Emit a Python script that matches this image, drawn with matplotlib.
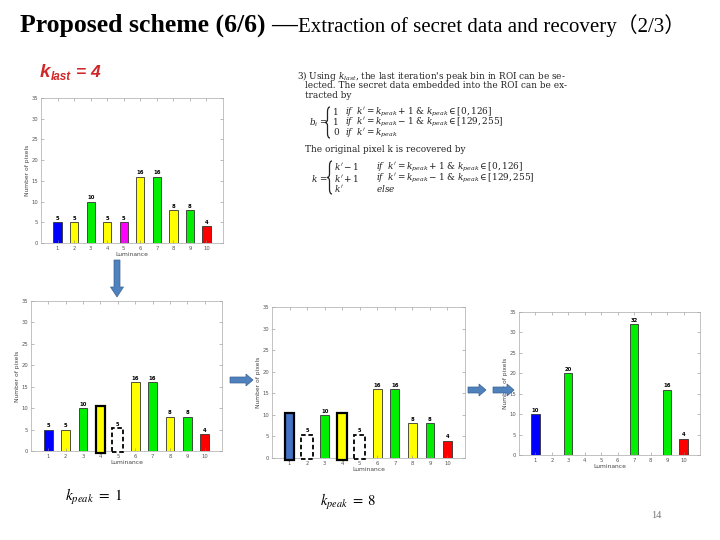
import matplotlib.pyplot as plt
from matplotlib.patches import FancyArrow, PathPatch
from matplotlib.path import Path

W, H = 720, 540

# histogram data
lum = [1, 2, 3, 4, 5, 6, 7, 8, 9, 10]
hist_last = [5, 5, 10, 5, 5, 16, 16, 8, 8, 4]
colors_last = ['#0000FF', '#FFFF00', '#00EE00', '#FFFF00', '#FF00FF',
               '#FFFF00', '#00EE00', '#FFFF00', '#00EE00', '#FF0000']
hist_final = [10, 0, 20, 0, 0, 0, 32, 0, 16, 4]
colors_final = ['#0000FF', 'white', '#00EE00', 'white', 'white',
                'white', '#00EE00', 'white', '#00EE00', '#FF0000']

# boxes drawn over the histograms on the slide
step1_solid_bins = [4]
step1_solid_colors = ['#FFFF00']
step1_dashed_bins = [5]
step2_solid_bins = [1, 4]
step2_solid_colors = ['#4472C4', '#FFFF00']
step2_dashed_bins = [2, 5]
solid_top = 10.4
dashed_top = 5.4
dashed_label = '5'


def rect(x0, y0, x1, y1):
    return [x0 / W, 1 - y1 / H, (x1 - x0) / W, (y1 - y0) / H]


def hist_axes(fig, box, values, colors, skip=()):
    ax = fig.add_axes(rect(*box))
    ax.bar(lum, values, width=0.5, color=colors, edgecolor='#333333', linewidth=0.6)
    for x, v in zip(lum, values):
        if v > 0 and x not in skip:
            ax.text(x, v + 0.3, str(v), ha='center', va='bottom',
                    fontsize=3.8, fontweight='bold')
    ax.set_xlim(0, 11)
    ax.set_ylim(0, 35)
    ax.set_xticks(lum)
    ax.set_yticks(range(0, 36, 5))
    ax.tick_params(direction='in', length=2, width=0.4, labelsize=3.8,
                   labelcolor='#555555', color='#888888', pad=2, top=True, right=True)
    for s in ax.spines.values():
        s.set_color('#aaaaaa')
        s.set_linewidth(0.5)
    ax.set_xlabel('Luminance', fontsize=4.3, color='#444444', labelpad=1)
    ax.set_ylabel('Number of pixels', fontsize=4.3, color='#444444', labelpad=1)
    return ax


def overlays(ax, solid_bins, solid_colors, dashed_bins):
    for b, c in zip(solid_bins, solid_colors):
        ax.bar(b, solid_top + 0.4, bottom=-0.4, width=0.55, color=c,
               edgecolor='black', linewidth=1.6, clip_on=False, zorder=3)
    for b in dashed_bins:
        ax.bar(b, dashed_top + 0.2, bottom=-0.2, width=0.65, color='white',
               edgecolor='black', linewidth=1.3, linestyle=(0, (2.5, 1.5)),
               clip_on=False, zorder=3)
        ax.text(b, dashed_top + 0.3, dashed_label, ha='center', va='bottom',
                fontsize=3.6, fontweight='bold', zorder=4)


def brace(fig, x, top, bot, w=5):
    # left curly brace in slide pixels (y grows downward)
    mid = (top + bot) / 2
    h = bot - top
    pts = [(x + w, top), (x + w / 2, top), (x + w / 2, top + 0.15 * h),
           (x + w / 2, mid - 0.1 * h), (x + w / 2, mid), (x, mid),
           (x + w / 2, mid), (x + w / 2, mid + 0.1 * h),
           (x + w / 2, bot - 0.15 * h), (x + w / 2, bot), (x + w, bot)]
    codes = [Path.MOVETO, Path.CURVE3, Path.CURVE3, Path.LINETO, Path.CURVE3, Path.CURVE3,
             Path.CURVE3, Path.CURVE3, Path.LINETO, Path.CURVE3, Path.CURVE3]
    verts = [(px / W, 1 - py / H) for px, py in pts]
    fig.patches.append(PathPatch(Path(verts, codes), transform=fig.transFigure,
                                 fill=False, lw=0.9, ec='#222222'))


fig = plt.figure(figsize=(7.2, 5.4), dpi=100)

# title
serif = ['Liberation Serif', 'Noto Sans CJK SC']
fig.text(20 / W, 1 - 32 / H, 'Proposed scheme (6/6) —', fontsize=18.5,
         fontweight='bold', family=serif, va='baseline')
fig.text(298 / W, 1 - 32 / H, 'Extraction of secret data and recovery（2/3）',
         fontsize=15, family=serif, va='baseline')

# k_last
red = '#D02828'
kl = dict(color=red, family='Liberation Sans', fontweight='bold', style='italic',
          va='baseline')
fig.text(40 / W, 1 - 77 / H, 'k', fontsize=13.5, **kl)
fig.text(51 / W, 1 - 80 / H, 'last', fontsize=8.5, **kl)
fig.text(76 / W, 1 - 77 / H, '= 4', fontsize=12.5, **kl)

# charts
ax1 = hist_axes(fig, (41, 98, 223, 243), hist_last, colors_last)
ax2 = hist_axes(fig, (31, 301, 222, 451), hist_last, colors_last,
                skip=step1_solid_bins + step1_dashed_bins)
overlays(ax2, step1_solid_bins, step1_solid_colors, step1_dashed_bins)
ax3 = hist_axes(fig, (272, 307, 465, 458), hist_last, colors_last,
                skip=step2_solid_bins + step2_dashed_bins)
overlays(ax3, step2_solid_bins, step2_solid_colors, step2_dashed_bins)
ax4 = hist_axes(fig, (519, 312, 700, 455), hist_final, colors_final)

# arrows between charts
arrow_kw = dict(transform=fig.transFigure, width=6 / H, head_width=12 / H,
                length_includes_head=True, color='#4F81BD', ec='#3A6496', lw=0.5)
fig.patches.append(FancyArrow(117 / W, 1 - 260 / H, 0, -37 / H,
                              width=6 / W, head_width=13 / W, head_length=10 / H,
                              length_includes_head=True, transform=fig.transFigure,
                              color='#4F81BD', ec='#3A6496', lw=0.5))
for x0, x1, y in [(230, 253, 380), (468, 486, 390), (493, 514, 390)]:
    fig.patches.append(FancyArrow(x0 / W, 1 - y / H, (x1 - x0) / W, 0,
                                  head_length=7 / W, **arrow_kw))

# explanation text
tx = dict(fontsize=6.4, family='DejaVu Serif', math_fontfamily='dejavuserif',
          va='center', color='#222222')


def t(x, y, s, **kw):
    d = dict(tx)
    d.update(kw)
    fig.text(x / W, 1 - y / H, s, **d)


t(297, 76.5, r"3) Using $k_{last}$, the last iteration's peak bin in ROI can be se-")
t(305, 86, 'lected. The secret data embedded into the ROI can be ex-')
t(305, 95, 'tracted by')
t(309, 122.5, r'$b_i$ =')
brace(fig, 325, 107, 138)
t(333, 122.5, '1\n1\n0', linespacing=1.15)
t(345, 112, r"$if\ \ k' = k_{peak} + 1$ & $k_{peak} \in [0, 126]$")
t(345, 122.5, r"$if\ \ k' = k_{peak} - 1$ & $k_{peak} \in [129, 255]$")
t(345, 133, r"$if\ \ k' = k_{peak}$")
t(305, 149.5, 'The original pixel k is recovered by')
t(311, 178, r'$k$ =')
brace(fig, 327, 161, 194)
t(334, 167, r"$k' - 1$")
t(334, 178, r"$k' + 1$")
t(334, 189, r"$k'$")
t(376, 167, r"$if\ \ k' = k_{peak} + 1$ & $k_{peak} \in [0, 126]$")
t(376, 178, r"$if\ \ k' = k_{peak} - 1$ & $k_{peak} \in [129, 255]$")
t(376, 189, r"$else$")

# k_peak labels
fig.text(65 / W, 1 - 497 / H, r'$k_{peak}\ =\ 1$', fontsize=11, math_fontfamily='stix',
         va='center')
fig.text(320 / W, 1 - 502 / H, r'$k_{peak}\ =\ 8$', fontsize=10.5, math_fontfamily='stix',
         va='center')

# page number
fig.text(651 / W, 1 - 515 / H, '14', fontsize=7.5, color='#777777',
         family='Liberation Serif', va='center')

fig.savefig('out.png', dpi=100)
